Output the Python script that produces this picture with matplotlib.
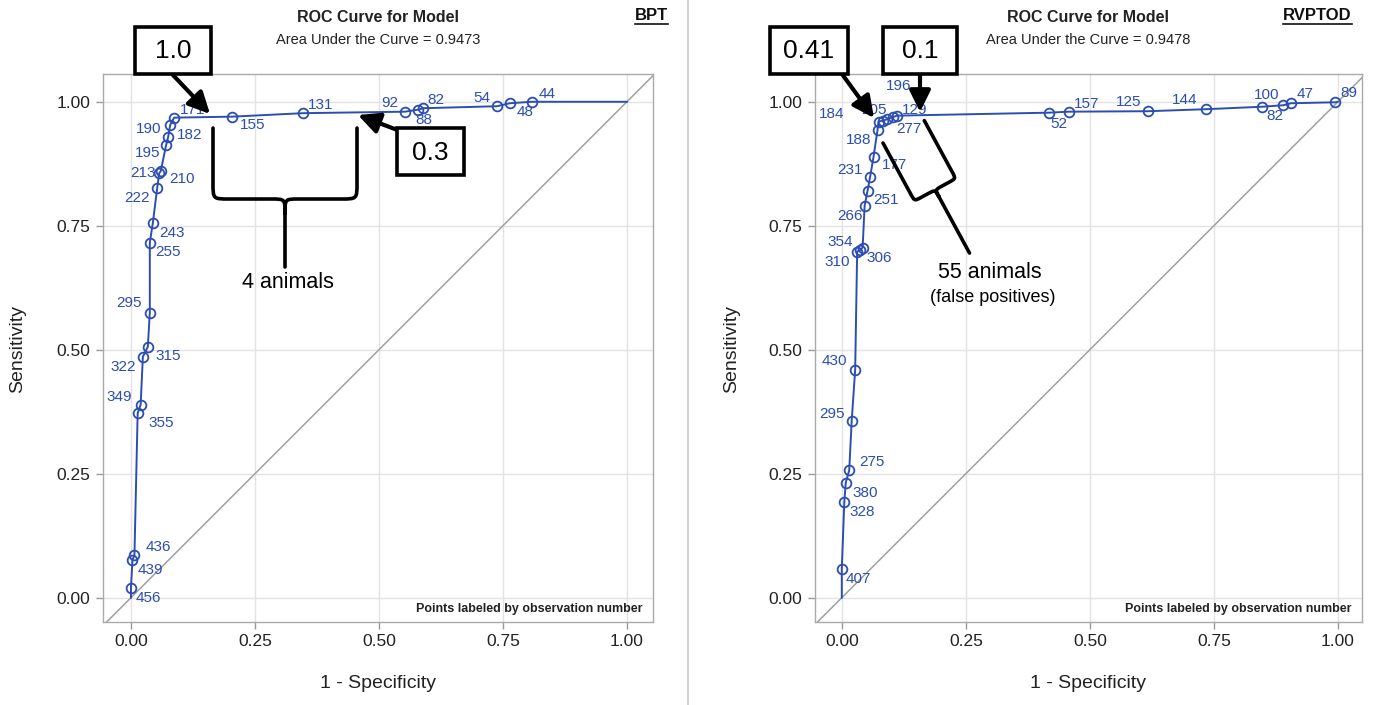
import matplotlib
matplotlib.use('Agg')
import matplotlib.pyplot as plt
from matplotlib.patches import Rectangle, FancyArrowPatch, PathPatch
from matplotlib.path import Path
import numpy as np

plt.rcParams['font.family'] = ['Liberation Sans', 'DejaVu Sans']

# ---------------- data: BPT panel ----------------
bpt_obs = ['456', '439', '436', '355', '349', '322', '315', '295', '255', '243',
           '222', '213', '210', '195', '182', '190', '171', '155', '131', '92',
           '88', '82', '54', '48', '44']
bpt_fpr = [0.000, 0.003, 0.007, 0.0135, 0.0195, 0.024, 0.034, 0.038, 0.038, 0.044,
           0.053, 0.057, 0.060, 0.071, 0.075, 0.079, 0.087, 0.204, 0.347, 0.552,
           0.579, 0.589, 0.738, 0.764, 0.808]
bpt_tpr = [0.020, 0.076, 0.086, 0.372, 0.389, 0.486, 0.506, 0.575, 0.716, 0.755,
           0.827, 0.856, 0.860, 0.913, 0.929, 0.953, 0.968, 0.970, 0.977, 0.980,
           0.984, 0.987, 0.991, 0.997, 1.000]
bpt_auc = 0.9473

# ---------------- data: RVPTOD panel ----------------
rv_obs = ['407', '328', '380', '275', '295', '430', '310', '354', '306', '266',
          '251', '231', '177', '188', '184', '205', '196', '277', '129', '52',
          '157', '125', '144', '100', '82', '47', '89']
rv_fpr = [0.000, 0.005, 0.008, 0.015, 0.020, 0.027, 0.031, 0.037, 0.042, 0.046,
          0.052, 0.057, 0.064, 0.072, 0.074, 0.083, 0.092, 0.103, 0.111, 0.417,
          0.457, 0.618, 0.734, 0.847, 0.890, 0.905, 0.995]
rv_tpr = [0.057, 0.192, 0.232, 0.257, 0.357, 0.460, 0.698, 0.701, 0.706, 0.790,
          0.821, 0.848, 0.889, 0.943, 0.960, 0.962, 0.965, 0.969, 0.972, 0.978,
          0.980, 0.981, 0.985, 0.990, 0.993, 0.997, 0.999]
rv_auc = 0.9478

ticks = [0.0, 0.25, 0.5, 0.75, 1.0]
tick_labels = ['0.00', '0.25', '0.50', '0.75', '1.00']

# label offsets (pixels, x right / y down) -- styling only
bpt_off = [(17, 10), (18, 10), (24, -8), (24, 10), (-21, -8), (-20, 10), (20, 9),
           (-21, -10), (18, 9), (19, 10), (-20, 10), (-16, 0), (21, 8), (-19, 8),
           (21, -2), (-22, 4), (18, -8), (20, 8), (18, -8), (-15, -9), (6, 10),
           (13, -8), (-15, -8), (15, 9), (15, -8)]
rv_off = [(17, 10), (18, 10), (19, 10), (23, -8), (-20, -7), (-21, -9), (-20, 10),
          (-20, -8), (17, 10), (-15, 10), (18, 9), (-20, -7), (21, 8), (-19, 10),
          (-47, -8), (-9, -11), (11, -33), (16, 12), (18, -6), (10, 11), (18, -8),
          (-20, -9), (-21, -9), (5, -12), (-8, 11), (14, -9), (13, -9)]

BLUE = '#2C4DB2'
W, H = 1394, 705
fig = plt.figure(figsize=(W / 100, H / 100), dpi=100)


def px_rect(x0, x1, y0, y1):
    return [x0 / W, 1 - y1 / H, (x1 - x0) / W, (y1 - y0) / H]


def panel(rect, xlim, ylim, fpr, tpr, obs, offs, auc):
    ax = fig.add_axes(rect)
    ax.set_xlim(*xlim)
    ax.set_ylim(*ylim)
    ax.set_xticks(ticks)
    ax.set_xticklabels(tick_labels)
    ax.set_yticks(ticks)
    ax.set_yticklabels(tick_labels)
    ax.grid(True, color='#E3E3E3', lw=1.0, zorder=0)
    ax.set_axisbelow(True)
    for s in ax.spines.values():
        s.set_color('#AAAAAA')
        s.set_linewidth(1.0)
    ax.tick_params(axis='both', labelsize=12.5, colors='#999999', labelcolor='#222222',
                   length=5, width=1, pad=4)
    ax.plot([-0.2, 1.2], [-0.2, 1.2], color='#A0A0A0', lw=1.1, zorder=1)
    xs = [0.0] + list(fpr) + [1.0]
    ys = [0.0] + list(tpr) + [1.0]
    ax.plot(xs, ys, color=BLUE, lw=1.4, zorder=3)
    ax.plot(fpr, tpr, ls='none', marker='o', ms=7, mfc='none', mec=BLUE, mew=1.3, zorder=4)
    for x, y, lab, (dx, dy) in zip(fpr, tpr, obs, offs):
        ax.annotate(lab, (x, y), xytext=(dx, -dy), textcoords='offset pixels',
                    ha='center', va='center', color=BLUE, fontsize=11, zorder=5)
    ax.text(0.982, 0.024, 'Points labeled by observation number', transform=ax.transAxes,
            ha='right', va='center', fontsize=9, fontweight='bold', color='#222222')
    ax.text(0.5, 1 + (74 - 17) / 548, 'ROC Curve for Model', transform=ax.transAxes,
            ha='center', va='center', fontsize=11.5, fontweight='bold', color='#222222')
    ax.text(0.5, 1 + (74 - 40) / 548, 'Area Under the Curve = %.4f' % auc,
            transform=ax.transAxes, ha='center', va='center', fontsize=10.5, color='#222222')
    ax.text(0.5, -(683 - 622) / 548, '1 - Specificity', transform=ax.transAxes,
            ha='center', va='center', fontsize=14, color='#222222')
    return ax


axL = panel(px_rect(102.7, 652.7, 74, 622), (-0.057, 1.052), (-0.049, 1.056),
            bpt_fpr, bpt_tpr, bpt_obs, bpt_off, bpt_auc)
axR = panel(px_rect(815, 1361.7, 74, 622), (-0.054, 1.048), (-0.049, 1.056),
            rv_fpr, rv_tpr, rv_obs, rv_off, rv_auc)

# overlay in pixel coordinates for the annotations
ov = fig.add_axes([0, 0, 1, 1], zorder=20)
ov.set_xlim(0, W)
ov.set_ylim(H, 0)
ov.axis('off')
ov.patch.set_alpha(0)

ov.plot([688, 688], [0, H], color='#C8C8C8', lw=1.2)
ov.text(18, 349, 'Sensitivity', rotation=90, ha='center', va='center', fontsize=14, color='#222222')
ov.text(732, 349, 'Sensitivity', rotation=90, ha='center', va='center', fontsize=14, color='#222222')

tags = []
for txt, xr in [('BPT', 668), ('RVPTOD', 1352)]:
    t = ov.text(xr, 15, txt, ha='right', va='center', fontsize=12, fontweight='bold', color='#111111')
    tags.append(t)


def box(x0, y0, x1, y1, txt, fs=19):
    ov.add_patch(Rectangle((x0, y0), x1 - x0, y1 - y0, fc='white', ec='black', lw=2.6, zorder=5))
    ov.text((x0 + x1) / 2, (y0 + y1) / 2 + 1, txt, ha='center', va='center', fontsize=fs, zorder=6)


def arrow(x0, y0, x1, y1):
    ov.add_patch(FancyArrowPatch((x0, y0), (x1, y1),
                                 arrowstyle='-|>,head_length=0.65,head_width=0.32',
                                 mutation_scale=20, lw=3.0, color='black',
                                 shrinkA=0, shrinkB=0, zorder=4))


def brace(ox, oy, w, d, s, theta_deg, r=12, r2=12):
    th = np.radians(theta_deg)
    u = np.array([np.cos(th), -np.sin(th)])
    v = np.array([np.sin(th), np.cos(th)])

    def P(a, b):
        return (ox + a * u[0] + b * v[0], oy + a * u[1] + b * v[1])
    m = w / 2
    verts, codes = [], []
    for side in (0, 1):
        e = 0 if side == 0 else w
        sg = 1 if side == 0 else -1
        verts += [P(e, 0), P(e, d - r), P(e, d), P(e, d), P(e + sg * r, d),
                  P(m - sg * r2, d), P(m, d), P(m, d), P(m, d + r2)]
        codes += [Path.MOVETO, Path.LINETO, Path.CURVE4, Path.CURVE4, Path.CURVE4,
                  Path.LINETO, Path.CURVE4, Path.CURVE4, Path.CURVE4]
    verts += [P(m, d + r2), P(m, d + s)]
    codes += [Path.MOVETO, Path.LINETO]
    ov.add_patch(PathPatch(Path(verts, codes), fc='none', ec='black', lw=2.6,
                           capstyle='round', joinstyle='round', zorder=4))


# left panel annotations
arrow(172, 74, 210, 114)
box(135, 27, 211, 74, '1.0')
arrow(400, 131, 358, 115)
box(397, 128, 464, 175, '0.3')
brace(213, 128, 144, 71, 68, 0, r=16, r2=14)
ov.text(288, 283, '4 animals', ha='center', va='center', fontsize=15.5)

# right panel annotations
arrow(842, 74, 874, 118)
box(770, 27, 848, 74, '0.41')
arrow(920, 74, 920, 112)
box(883, 27, 957, 74, '0.1')
brace(883, 143, 47, 66, 72, 28.5, r=8, r2=8)
ov.text(990, 273, '55 animals', ha='center', va='center', fontsize=15.5)
ov.text(993, 298, '(false positives)', ha='center', va='center', fontsize=13)

# underline tags
fig.canvas.draw()
inv = ov.transData.inverted()
for t in tags:
    bb = t.get_window_extent()
    (xa, ya), (xb, yb) = inv.transform([[bb.x0, bb.y0], [bb.x1, bb.y1]])
    ov.plot([xa, xb], [ya + 1, ya + 1], color='#111111', lw=1.2)

fig.savefig('out.png', dpi=100)
